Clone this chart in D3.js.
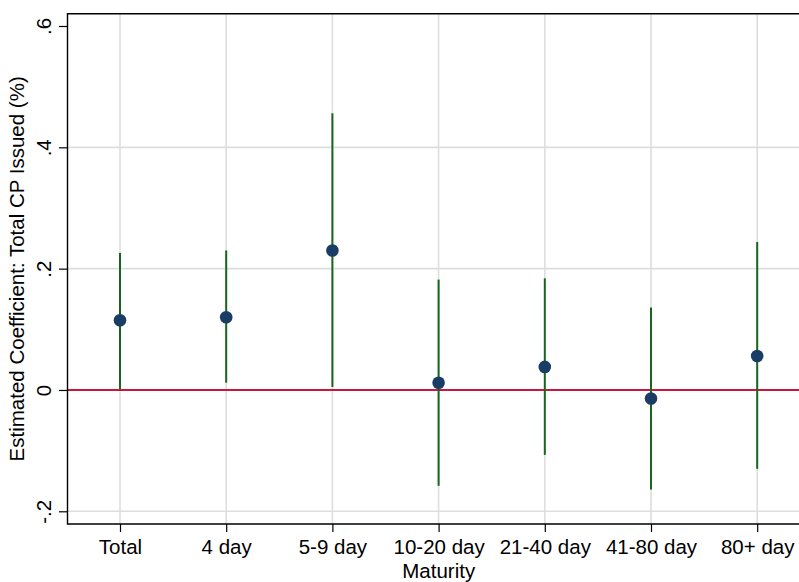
<!DOCTYPE html>
<html>
<head>
<meta charset="utf-8">
<script src="https://cdn.jsdelivr.net/npm/d3@7"></script>
<style>
  body { margin: 0; background: #fff; }
  text { font-family: "Liberation Sans", Arial, Helvetica, sans-serif; fill: #000; }
</style>
</head>
<body>
<div id="chart"></div>
<script>
// Data
var categories = ["Total", "4 day", "5-9 day", "10-20 day", "21-40 day", "41-80 day", "80+ day"];
var coefs = [0.115, 0.120, 0.230, 0.012, 0.038, -0.014, 0.056];
var ciLow = [0.001, 0.012, 0.005, -0.158, -0.107, -0.164, -0.130];
var ciHigh = [0.226, 0.230, 0.456, 0.182, 0.184, 0.136, 0.244];
var yTicks = [-0.2, 0, 0.2, 0.4, 0.6];
var yTickLabels = ["-.2", "0", ".2", ".4", ".6"];

var svgWidth = 799;
var svgHeight = 582;

// plot region (right edge runs past the window, as in the original)
var plot = { left: 67.5, right: 810, top: 13.7, bottom: 524 };

var svg = d3.select("#chart")
  .append("svg")
  .attr("width", svgWidth)
  .attr("height", svgHeight);

var x = d3.scalePoint()
  .domain(categories)
  .range([120, 757.2]);

var y = d3.scaleLinear()
  .domain([-0.2, 0.6])
  .range([511.3, 26]);

// Gridlines
svg.append("g")
  .selectAll("line.hgrid")
  .data(yTicks.filter(d => d !== 0.6))
  .enter()
  .append("line")
  .attr("x1", plot.left)
  .attr("x2", plot.right)
  .attr("y1", d => y(d))
  .attr("y2", d => y(d))
  .attr("stroke", "#dedede")
  .attr("stroke-width", 1.6);

svg.append("g")
  .selectAll("line.vgrid")
  .data(categories)
  .enter()
  .append("line")
  .attr("x1", d => x(d))
  .attr("x2", d => x(d))
  .attr("y1", plot.top)
  .attr("y2", plot.bottom)
  .attr("stroke", "#dedede")
  .attr("stroke-width", 1.6);

// Zero reference line
svg.append("line")
  .attr("x1", plot.left)
  .attr("x2", plot.right)
  .attr("y1", y(0))
  .attr("y2", y(0))
  .attr("stroke", "#c8163f")
  .attr("stroke-width", 1.8);

// Confidence intervals
svg.append("g")
  .selectAll("line")
  .data(categories)
  .enter()
  .append("line")
  .attr("x1", d => x(d))
  .attr("x2", d => x(d))
  .attr("y1", (d, i) => y(ciLow[i]))
  .attr("y2", (d, i) => y(ciHigh[i]))
  .attr("stroke", "#16661c")
  .attr("stroke-width", 2);

// Point estimates
svg.append("g")
  .selectAll("circle")
  .data(categories)
  .enter()
  .append("circle")
  .attr("cx", d => x(d))
  .attr("cy", (d, i) => y(coefs[i]))
  .attr("r", 6.3)
  .attr("fill", "#1a3d66");

// Axes
var leftAxis = d3.axisLeft(y)
  .tickValues(yTicks)
  .tickSize(8.5)
  .tickSizeOuter(0)
  .tickFormat((d, i) => yTickLabels[i]);

var yAxis = svg.append("g")
  .attr("transform", `translate(${plot.left}, 0)`)
  .call(leftAxis);
yAxis.select(".domain").remove();
yAxis.selectAll(".tick line").attr("stroke", "#000").attr("stroke-width", 1.2);
yAxis.selectAll(".tick text")
  .attr("font-size", 20.5)
  .attr("text-anchor", "middle")
  .attr("x", 0)
  .attr("dy", 0)
  .attr("transform", "translate(-17, 0) rotate(-90)");

var bottomAxis = d3.axisBottom(x)
  .tickSize(8)
  .tickSizeOuter(0);

var xAxis = svg.append("g")
  .attr("transform", `translate(0, ${plot.bottom})`)
  .call(bottomAxis);
xAxis.select(".domain").remove();
xAxis.selectAll(".tick line").attr("stroke", "#000").attr("stroke-width", 1.2);
xAxis.selectAll(".tick text")
  .attr("font-size", 20.5)
  .attr("y", 30)
  .attr("dy", 0);

// Plot frame (left, top, bottom)
svg.append("path")
  .attr("d", `M${plot.right},${plot.top}H${plot.left}V${plot.bottom}H${plot.right}`)
  .attr("fill", "none")
  .attr("stroke", "#000")
  .attr("stroke-width", 1.4);

// Axis titles
svg.append("text")
  .attr("x", (plot.left + plot.right) / 2)
  .attr("y", 578)
  .attr("text-anchor", "middle")
  .attr("font-size", 20.5)
  .text("Maturity");

svg.append("text")
  .attr("transform", `translate(24, ${(plot.top + plot.bottom) / 2}) rotate(-90)`)
  .attr("text-anchor", "middle")
  .attr("font-size", 20.5)
  .text("Estimated Coefficient: Total CP Issued (%)");
</script>
</body>
</html>
